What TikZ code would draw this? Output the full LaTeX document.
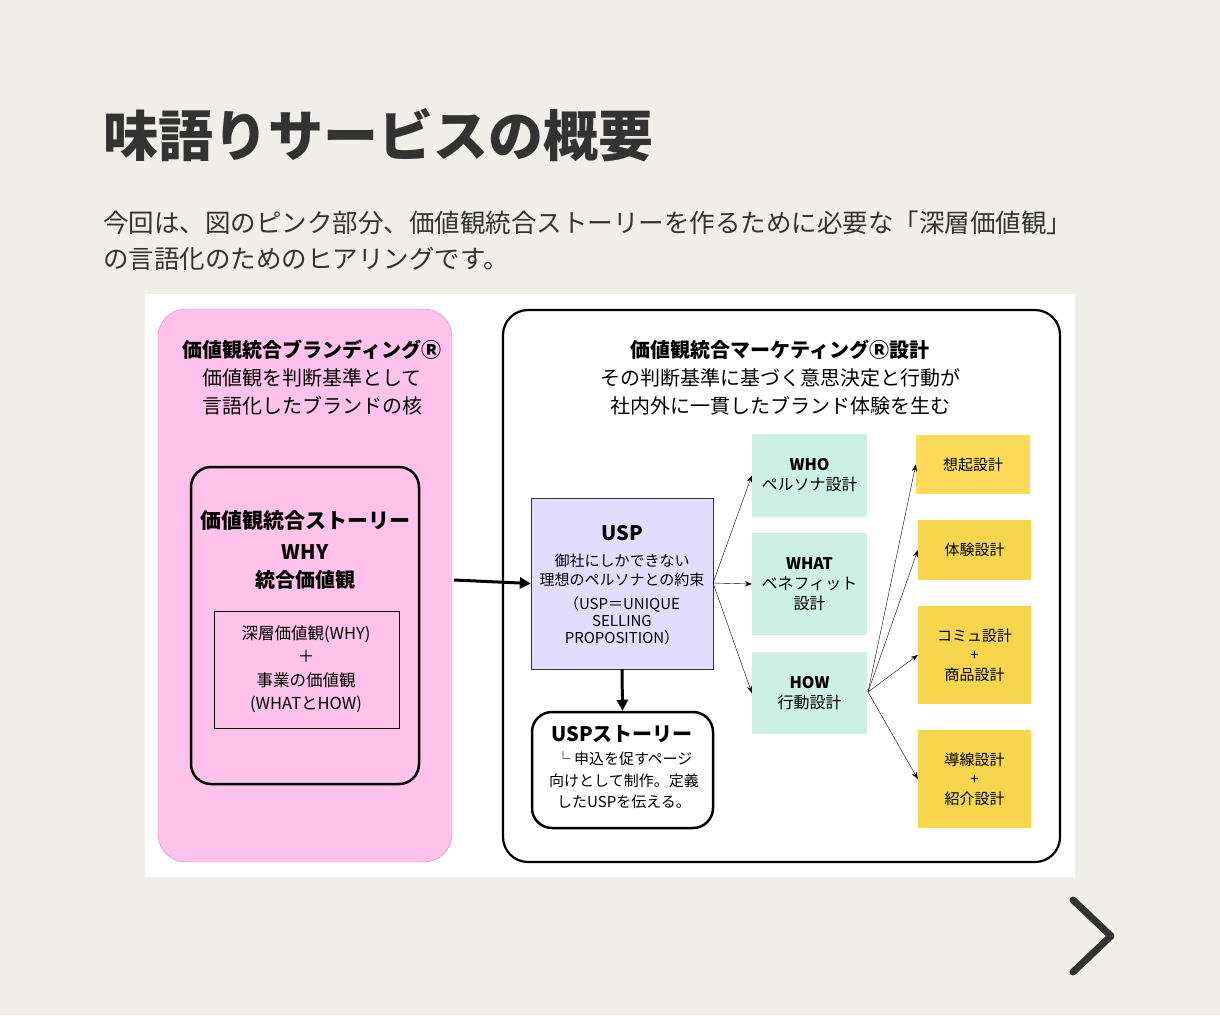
\documentclass[tikz,border=0pt]{standalone}
\usepackage{fontspec}
\setmainfont{Noto Sans CJK JP}
\usetikzlibrary{arrows.meta}
\definecolor{bg}{HTML}{F0EEEA}
\definecolor{pinkf}{HTML}{FFC2EA}
\definecolor{pinkd}{HTML}{E07ACB}
\definecolor{uspf}{HTML}{E2DDFF}
\definecolor{mint}{HTML}{CDEFE4}
\definecolor{yel}{HTML}{F7D64E}
\definecolor{yel1}{HTML}{FDDB58}
\definecolor{txt}{HTML}{333333}
\begin{document}
\begin{tikzpicture}[x=1pt,y=-1pt,
  t/.style={font=\fontsize{20}{24}\selectfont,align=center,inner sep=0},
  s/.style={font=\fontsize{15}{19}\selectfont,align=center,inner sep=0},
  box/.style={draw=black,thick},
  arr/.style={-{Stealth[length=7pt]},thin},
  barr/.style={-{Triangle[length=11pt,width=11pt]},line width=3pt}]
\fill[bg] (0,0) rectangle (1220,1015);
\useasboundingbox (0,0) rectangle (1220,1015);
\node[anchor=west,text=txt,font=\fontsize{55}{60}\selectfont\bfseries,inner sep=0] (title) at (103,135) {味語りサービスの概要};
\node[anchor=north west,text=txt,font=\fontsize{25.5}{36}\selectfont,align=left,inner sep=0] (sub) at (103,211) {今回は、図のピンク部分、価値観統合ストーリーを作るために必要な「深層価値観」\\の言語化のためのヒアリングです。};
\fill[white] (145,294) rectangle (1075,877);
% pink
\draw[pinkd,fill=pinkf,rounded corners=28] (158,309) rectangle (452,862);
\node[t] (p1) at (312,350) {\bfseries 価値観統合ブランディングⓇ};
\node[t] (p2) at (312,378) {価値観を判断基準として};
\node[t] (p3) at (312,406) {言語化したブランドの核};
\draw[line width=2.5pt,rounded corners=20] (191,467) rectangle (419,784);
\coordinate (storyE) at (454,580);
\node[t] (s1) at (305,520) {\bfseries\fontsize{21}{24}\selectfont 価値観統合ストーリー};
\node[t] (s2) at (305,552) {\bfseries WHY};
\node[t] (s3) at (305,580) {\bfseries 統合価値観};
\draw (214,611) rectangle (399,728);
\node[t,font=\fontsize{16.5}{23.5}\selectfont] (in) at (306,669) {深層価値観(WHY)\\＋\\事業の価値観\\(WHATとHOW)};
% right
\draw[line width=2.2pt,rounded corners=25] (503,310) rectangle (1060,862);
\node[t] (r1) at (780,350) {\bfseries 価値観統合マーケティングⓇ設計};
\node[t] (r2) at (780,378) {その判断基準に基づく意思決定と行動が};
\node[t] (r3) at (780,406) {社内外に一貫したブランド体験を生む};
\node[draw=txt,fill=uspf,minimum width=182,minimum height=171,inner sep=0] (usp) at (622,583.5) {};
\node[t] at (622,533) {\bfseries\fontsize{20}{22}\selectfont USP};
\node[s] at (622,570) {御社にしかできない\\理想のペルソナとの約束};
\node[s,font=\fontsize{15}{17}\selectfont] at (622,621) {（USP＝UNIQUE\\SELLING\\PROPOSITION）};
\draw[barr] (storyE) -- (usp.west);
\node[draw,line width=2.5pt,rounded corners=20,minimum width=181,minimum height=116,inner sep=0] (uspst) at (622.5,770) {};
\node[t] at (622,734) {\bfseries\fontsize{20}{22}\selectfont USPストーリー};
\node[s,font=\fontsize{15}{21.5}\selectfont] at (624,780) {└ 申込を促すページ\\向けとして制作。定義\\したUSPを伝える。};
\draw[barr] (usp.south) -- (uspst.north);
\node[fill=mint,minimum width=115,minimum height=83,inner sep=0,s,font=\fontsize{16}{20}\selectfont] (who) at (809.5,475.5) {\bfseries WHO\\ペルソナ設計};
\node[fill=mint,minimum width=115,minimum height=102,inner sep=0,s,font=\fontsize{16}{20}\selectfont] (what) at (809.5,584) {\bfseries WHAT\\ベネフィット\\設計};
\node[fill=mint,minimum width=115,minimum height=82,inner sep=0,s,font=\fontsize{16}{20}\selectfont] (how) at (809.5,693) {\bfseries HOW\\行動設計};
\coordinate (uspE) at (713,583);
\draw[arr] (uspE) -- (who.west);
\draw[arr] (uspE) -- (what.west);
\draw[arr] (uspE) -- (how.west);
\node[fill=yel1,minimum width=114,minimum height=59,inner sep=0,s] (y1) at (973,464.5) {想起設計};
\node[fill=yel,minimum width=113,minimum height=60,inner sep=0,s] (y2) at (974.5,550) {体験設計};
\node[fill=yel,minimum width=113,minimum height=98,inner sep=0,s,font=\fontsize{15}{19.5}\selectfont] (y3) at (974.5,655) {コミュ設計\\+\\商品設計};
\node[fill=yel,minimum width=113,minimum height=98,inner sep=0,s,font=\fontsize{15}{19.5}\selectfont] (y4) at (974.5,779) {導線設計\\+\\紹介設計};
\coordinate (howE) at (868,692);
\draw[arr] (howE) -- (y1.west);
\draw[arr] (howE) -- (y2.west);
\draw[arr] (howE) -- (y3.west);
\draw[arr] (howE) -- (y4.west);
% chevron
\draw[txt,line width=7pt,line cap=round,line join=round] (1073,900) -- (1111,936) -- (1073,972);
\end{tikzpicture}
\end{document}
